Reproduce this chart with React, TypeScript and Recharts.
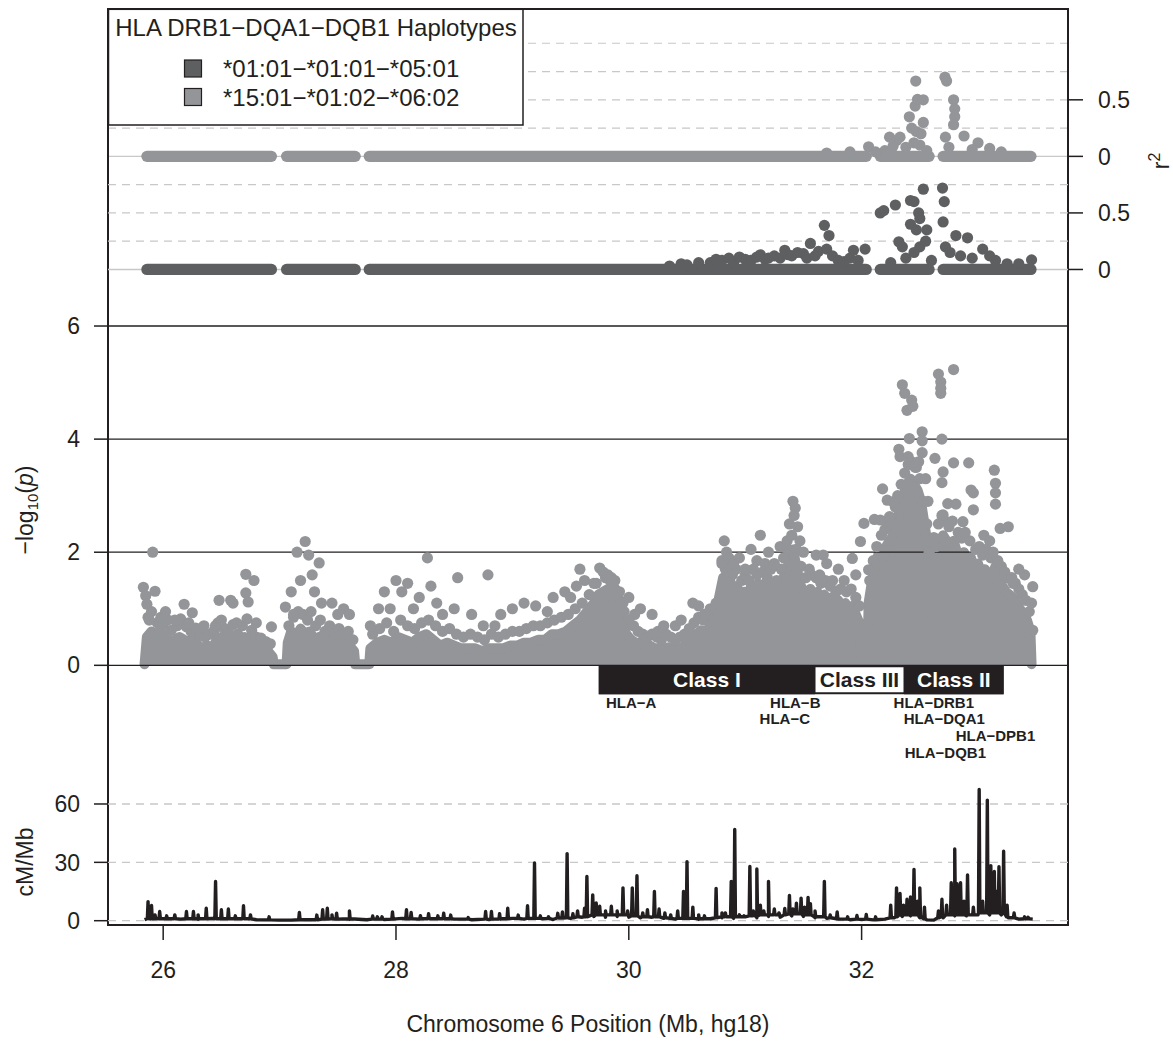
import React from 'react'
import {
  Area,
  ComposedChart,
  Line,
  ReferenceArea,
  ReferenceLine,
  Scatter,
  XAxis,
  YAxis,
} from 'recharts'

const W = 1173
const H = 1042
const FONT = '"Liberation Sans", Arial, Helvetica, sans-serif'
const INK = '#231f20'
const LIGHT = '#939598'
const DARK = '#5e5f61'
const GRID = '#c8c8c8'

// ---- data (Mb on chr6, hg18) ----
const xTicks = [26, 28, 30, 32]
const pTicks = [0, 2, 4, 6]
const r2Ticks = [0, 0.5]
const r2Grid = [0.25, 0.5, 0.75, 1]
const cmTicks = [0, 30, 60]

// dense body of the association cloud: [Mb, upper edge of the solid mass]
const pCoreTop = [
  [25.84, 0.02], [25.86, 0.5], [25.9, 0.6], [25.94, 0.45], [25.98, 0.5], [26.02, 0.55],
  [26.06, 0.4], [26.1, 0.45], [26.14, 0.5], [26.18, 0.45], [26.22, 0.4], [26.26, 0.5],
  [26.3, 0.35], [26.34, 0.3], [26.38, 0.35], [26.42, 0.3], [26.46, 0.45], [26.5, 0.5],
  [26.54, 0.35], [26.58, 0.5], [26.62, 0.4], [26.66, 0.35], [26.7, 0.5], [26.74, 0.45],
  [26.78, 0.35], [26.82, 0.3], [26.86, 0.3], [26.9, 0.25], [26.94, 0.15], [26.95, 0.02],
  [27.06, 0.02], [27.07, 0.4], [27.1, 0.6], [27.14, 0.5], [27.18, 0.65], [27.22, 0.55],
  [27.26, 0.6], [27.3, 0.45], [27.34, 0.5], [27.38, 0.4], [27.42, 0.45], [27.46, 0.35],
  [27.5, 0.45], [27.54, 0.35], [27.58, 0.4], [27.62, 0.3], [27.64, 0.25], [27.65, 0.02],
  [27.77, 0.02], [27.78, 0.3], [27.84, 0.4], [27.9, 0.45], [27.96, 0.4], [28.02, 0.5],
  [28.08, 0.45], [28.14, 0.4], [28.2, 0.5], [28.26, 0.55], [28.32, 0.45], [28.38, 0.35],
  [28.44, 0.4], [28.5, 0.35], [28.56, 0.3], [28.62, 0.3], [28.68, 0.3], [28.74, 0.25],
  [28.8, 0.3], [28.86, 0.3], [28.92, 0.3], [28.98, 0.35], [29.04, 0.35], [29.1, 0.4],
  [29.16, 0.4], [29.22, 0.45], [29.28, 0.45], [29.34, 0.55], [29.4, 0.55], [29.46, 0.6],
  [29.52, 0.7], [29.58, 0.8], [29.64, 0.95], [29.7, 1.1], [29.74, 1.25], [29.78, 1.3],
  [29.82, 1.35], [29.86, 1.2], [29.9, 0.95], [29.94, 0.75], [29.98, 0.55], [30.02, 0.45],
  [30.06, 0.4], [30.1, 0.4], [30.14, 0.35], [30.18, 0.35], [30.22, 0.3], [30.26, 0.3],
  [30.3, 0.28], [30.34, 0.32], [30.38, 0.3], [30.42, 0.28], [30.46, 0.32], [30.5, 0.38],
  [30.54, 0.45], [30.58, 0.55], [30.62, 0.62], [30.66, 0.58], [30.7, 0.7], [30.74, 0.85],
  [30.78, 1.25], [30.81, 1.55], [30.84, 1.4], [30.87, 1.5], [30.9, 1.3], [30.93, 1.4],
  [30.96, 1.2], [30.99, 1.3], [31.02, 1.2], [31.05, 1.4], [31.08, 1.25], [31.11, 1.45],
  [31.14, 1.3], [31.17, 1.45], [31.2, 1.3], [31.23, 1.4], [31.26, 1.25], [31.29, 1.4],
  [31.32, 1.5], [31.35, 1.65], [31.38, 1.85], [31.41, 2.05], [31.44, 1.75], [31.47, 1.45],
  [31.5, 1.3], [31.53, 1.2], [31.56, 1.35], [31.59, 1.2], [31.62, 1.3], [31.65, 1.15],
  [31.68, 1.25], [31.71, 1.1], [31.74, 1.2], [31.77, 1.0], [31.8, 1.15], [31.83, 1.0],
  [31.86, 1.1], [31.89, 1.0], [31.92, 1.05], [31.95, 0.9], [31.98, 0.75], [32.0, 0.02],
  [32.05, 0.02], [32.06, 1.1], [32.09, 1.5], [32.12, 1.8], [32.15, 2.0], [32.18, 1.9],
  [32.21, 2.1], [32.24, 2.2], [32.27, 2.3], [32.3, 2.5], [32.33, 2.8], [32.36, 3.0],
  [32.39, 3.2], [32.42, 3.3], [32.45, 3.2], [32.48, 3.1], [32.51, 2.9], [32.54, 2.5],
  [32.57, 2.1], [32.6, 1.3], [32.62, 0.5], [32.64, 1.7], [32.67, 2.2], [32.7, 2.3],
  [32.73, 2.2], [32.76, 2.1], [32.79, 2.2], [32.82, 2.0], [32.85, 1.9], [32.88, 2.0],
  [32.91, 1.8], [32.94, 1.9], [32.97, 1.7], [33.0, 1.8], [33.03, 1.6], [33.06, 1.7],
  [33.09, 1.5], [33.12, 1.6], [33.15, 1.75], [33.18, 1.5], [33.21, 1.4], [33.24, 1.3],
  [33.27, 1.25], [33.3, 1.2], [33.33, 1.1], [33.36, 1.0], [33.39, 0.9], [33.42, 0.8],
  [33.45, 0.6], [33.46, 0.02],
]

// SNPs along the ragged top of the cloud: [Mb, -log10 p]
const pFringe = [
  [25.87, 0.85], [25.9, 0.95], [25.95, 0.75], [25.97, 0.6], [26.0, 0.72], [26.04, 0.8],
  [26.07, 0.62], [26.12, 0.7], [26.15, 0.82], [26.2, 0.68], [26.24, 0.6], [26.28, 0.66],
  [26.32, 0.55], [26.36, 0.5], [26.4, 0.55], [26.44, 0.62], [26.47, 0.75], [26.52, 0.66],
  [26.56, 0.58], [26.6, 0.72], [26.64, 0.55], [26.68, 0.7], [26.72, 0.82], [26.76, 0.62],
  [26.8, 0.5], [26.84, 0.48], [26.88, 0.42], [26.92, 0.38],
  [27.08, 0.7], [27.12, 0.85], [27.16, 0.95], [27.2, 0.9], [27.24, 0.8], [27.27, 0.95],
  [27.31, 0.7], [27.35, 0.8], [27.39, 0.6], [27.43, 0.7], [27.47, 0.55], [27.51, 0.65],
  [27.55, 0.55], [27.59, 0.6], [27.63, 0.45],
  [27.8, 0.55], [27.86, 0.65], [27.92, 0.75], [27.98, 0.6], [28.04, 0.8], [28.1, 0.7],
  [28.16, 0.65], [28.22, 0.75], [28.28, 0.8], [28.34, 0.7], [28.4, 0.6], [28.46, 0.65],
  [28.52, 0.55], [28.58, 0.5], [28.64, 0.55], [28.7, 0.5], [28.76, 0.45], [28.82, 0.55],
  [28.88, 0.5], [28.94, 0.55], [29.0, 0.6], [29.06, 0.6], [29.12, 0.65], [29.18, 0.7],
  [29.24, 0.7], [29.3, 0.75], [29.36, 0.8], [29.42, 0.85], [29.48, 0.9], [29.54, 1.0],
  [29.6, 1.1], [29.66, 1.25], [29.72, 1.45], [29.8, 1.55], [29.84, 1.5], [29.88, 1.35],
  [29.92, 1.15], [29.96, 0.95], [30.0, 0.8], [30.04, 0.7],
  [30.08, 0.6], [30.12, 0.55], [30.16, 0.5], [30.2, 0.55], [30.24, 0.5], [30.28, 0.45],
  [30.32, 0.55], [30.36, 0.5], [30.4, 0.45], [30.44, 0.5], [30.48, 0.55], [30.52, 0.65],
  [30.56, 0.75], [30.6, 0.85], [30.64, 0.8], [30.68, 0.9], [30.72, 1.0],
  [30.8, 1.85], [30.83, 1.7], [30.86, 1.8], [30.89, 1.6], [30.92, 1.7], [30.97, 1.5],
  [31.0, 1.6], [31.03, 1.5], [31.07, 1.7], [31.1, 1.6], [31.15, 1.65], [31.19, 1.55],
  [31.22, 1.7], [31.27, 1.5], [31.31, 1.7], [31.34, 1.9], [31.37, 2.05], [31.44, 2.05],
  [31.48, 1.75], [31.52, 1.55], [31.57, 1.6], [31.61, 1.55], [31.65, 1.45], [31.69, 1.5],
  [31.73, 1.4], [31.78, 1.3], [31.82, 1.35], [31.87, 1.3], [31.91, 1.35], [31.95, 1.2],
  [31.98, 1.05],
  [32.07, 1.5], [32.1, 1.85], [32.13, 2.1], [32.17, 2.3], [32.2, 2.4], [32.23, 2.5],
  [32.26, 2.6], [32.29, 2.8], [32.31, 3.0], [32.34, 3.2], [32.37, 3.4], [32.4, 3.55],
  [32.43, 3.6], [32.47, 3.5], [32.5, 3.3], [32.53, 2.9], [32.56, 2.5], [32.58, 2.0],
  [32.64, 2.1], [32.66, 2.5], [32.69, 2.65], [32.72, 2.55], [32.75, 2.45], [32.78, 2.55],
  [32.83, 2.35], [32.86, 2.25], [32.89, 2.35], [32.93, 2.2], [32.98, 2.05], [33.01, 2.1],
  [33.04, 1.95], [33.07, 2.05], [33.11, 1.9], [33.13, 2.0], [33.17, 1.85], [33.2, 1.75],
  [33.23, 1.65], [33.26, 1.55], [33.29, 1.55], [33.32, 1.45], [33.35, 1.35], [33.38, 1.25],
  [33.41, 1.15], [33.44, 0.95],
]

// individual SNPs standing out of the cloud: [Mb, -log10 p]
const pPoints = [
  [25.83, 1.38], [25.85, 1.23], [25.86, 1.08], [25.91, 2.0], [25.93, 1.31], [25.88, 0.8],
  [25.98, 0.85], [26.02, 0.95], [26.1, 0.8], [26.18, 1.08], [26.22, 0.75], [26.25, 0.93],
  [26.35, 0.7], [26.45, 0.7], [26.48, 1.15], [26.5, 0.8], [26.58, 1.15], [26.6, 1.1],
  [26.63, 0.75], [26.71, 1.61], [26.71, 1.28], [26.73, 1.12], [26.78, 1.5], [26.8, 0.75],
  [26.93, 0.68], [27.05, 1.03], [27.1, 1.3], [27.12, 0.9], [27.15, 2.0], [27.18, 1.5],
  [27.22, 2.19], [27.25, 1.95], [27.28, 1.6], [27.3, 1.3], [27.34, 1.81], [27.36, 1.1],
  [27.45, 1.1], [27.5, 0.9], [27.55, 1.0], [27.6, 0.9], [27.78, 0.7], [27.85, 1.0],
  [27.9, 1.3], [27.95, 1.0], [28.0, 1.5], [28.05, 1.3], [28.1, 1.45], [28.15, 1.0],
  [28.2, 1.2], [28.27, 1.9], [28.3, 1.4], [28.35, 1.1], [28.4, 0.9], [28.5, 1.0],
  [28.53, 1.55], [28.65, 0.9], [28.79, 1.6], [28.75, 0.7], [28.85, 0.7], [28.9, 0.9],
  [29.0, 1.0], [29.1, 1.1], [29.2, 1.05], [29.3, 0.95], [29.35, 1.2], [29.45, 1.3],
  [29.5, 1.2], [29.55, 1.4], [29.58, 1.7], [29.62, 1.5], [29.7, 1.45], [29.75, 1.72],
  [29.78, 1.65], [29.82, 1.6], [29.85, 1.55], [29.88, 1.5], [29.92, 1.3], [29.95, 1.1],
  [30.0, 1.2], [30.05, 0.9], [30.1, 1.0], [30.2, 0.9], [30.25, 0.6], [30.3, 0.7],
  [30.4, 0.7], [30.45, 0.8], [30.55, 1.1], [30.6, 1.05], [30.65, 0.9], [30.7, 1.0],
  [30.75, 1.1], [30.8, 1.8], [30.82, 2.2], [30.84, 2.0], [30.86, 1.9], [30.9, 1.8],
  [30.95, 1.9], [31.0, 1.7], [31.05, 2.05], [31.1, 1.85], [31.13, 2.3], [31.17, 1.8],
  [31.2, 2.0], [31.25, 1.8], [31.3, 2.1], [31.33, 1.9], [31.36, 2.2], [31.38, 2.5],
  [31.4, 2.3], [31.41, 2.9], [31.43, 2.78], [31.42, 2.65], [31.45, 2.45], [31.47, 2.2],
  [31.5, 2.0], [31.55, 1.7], [31.61, 1.95], [31.67, 1.95], [31.64, 1.6], [31.7, 1.8],
  [31.75, 1.5], [31.8, 1.7], [31.85, 1.5], [31.92, 1.89], [31.99, 2.19], [31.95, 1.6],
  [32.02, 2.51], [32.06, 1.69], [32.11, 2.58], [32.16, 2.57], [32.18, 3.12], [32.22, 2.92],
  [32.24, 2.63], [32.27, 2.89], [32.32, 3.82], [32.33, 3.69], [32.35, 4.96], [32.37, 4.81],
  [32.39, 4.51], [32.4, 3.69], [32.41, 4.01], [32.43, 4.69], [32.44, 4.58], [32.52, 4.13],
  [32.52, 3.97], [32.52, 3.76], [32.46, 3.5], [32.49, 3.6], [32.55, 3.3], [32.57, 2.9],
  [32.62, 2.26], [32.63, 3.66], [32.66, 5.15], [32.68, 5.01], [32.68, 4.9], [32.68, 4.81],
  [32.69, 4.0], [32.7, 3.42], [32.69, 3.23], [32.7, 2.66], [32.74, 2.86], [32.79, 5.23],
  [32.79, 3.58], [32.81, 2.85], [32.87, 2.54], [32.92, 3.58], [32.94, 3.1], [32.96, 3.05],
  [32.96, 2.75], [33.14, 3.45], [33.15, 3.22], [33.15, 3.05], [33.15, 2.85], [33.19, 2.42],
  [33.26, 2.45], [33.05, 2.3], [33.1, 2.2], [33.3, 1.45], [33.47, 1.39], [33.46, 1.1],
  [33.47, 0.62], [33.4, 1.6], [33.35, 1.7],
]

// runs of SNPs sitting at r2 = 0 in both haplotype panels: [start Mb, end Mb]
const r2ZeroRuns = [
  [25.86, 26.93], [27.06, 27.65], [27.77, 32.04], [32.16, 32.58], [32.7, 33.455],
]

// *15:01-*01:02-*06:02 (light, upper panel): [Mb, r2]
const r2Hap1502 = [
  [32.06, 0.085], [32.24, 0.17], [32.3, 0.14], [32.33, 0.17], [32.41, 0.35], [32.43, 0.25],
  [32.46, 0.445], [32.465, 0.666], [32.47, 0.22], [32.48, 0.504], [32.51, 0.2], [32.53, 0.5],
  [32.716, 0.7], [32.73, 0.666], [32.72, 0.17], [32.79, 0.5], [32.8, 0.42], [32.8, 0.35],
  [32.79, 0.28], [32.88, 0.18], [33.0, 0.12], [33.1, 0.07], [32.38, 0.08], [32.5, 0.1],
  [32.56, 0.05], [32.75, 0.08], [32.95, 0.06], [33.2, 0.04], [32.2, 0.05], [31.9, 0.04],
  [31.7, 0.03], [32.12, 0.04], [32.27, 0.09], [32.53, 0.3], [32.45, 0.12],
]

// *01:01-*01:01-*05:01 (dark, lower panel): [Mb, r2]
const r2Hap0101 = [
  [30.35, 0.03], [30.45, 0.05], [30.5, 0.04], [30.6, 0.06], [30.7, 0.06], [30.75, 0.09],
  [30.8, 0.08], [30.86, 0.1], [30.9, 0.06], [30.95, 0.11], [31.0, 0.09], [31.05, 0.08],
  [31.1, 0.11], [31.13, 0.13], [31.17, 0.09], [31.2, 0.1], [31.25, 0.12], [31.3, 0.1],
  [31.34, 0.17], [31.37, 0.13], [31.4, 0.12], [31.45, 0.15], [31.5, 0.14], [31.53, 0.1],
  [31.56, 0.23], [31.6, 0.12], [31.63, 0.16], [31.68, 0.39], [31.72, 0.3], [31.7, 0.18],
  [31.75, 0.12], [31.8, 0.08], [31.85, 0.07], [31.9, 0.1], [31.93, 0.17], [31.97, 0.08],
  [32.03, 0.18], [32.16, 0.5], [32.19, 0.52], [32.29, 0.57], [32.32, 0.245], [32.42, 0.61],
  [32.45, 0.6], [32.42, 0.4], [32.47, 0.35], [32.49, 0.5], [32.5, 0.45], [32.53, 0.71],
  [32.56, 0.35], [32.5, 0.2], [32.45, 0.15], [32.695, 0.72], [32.71, 0.6], [32.7, 0.42],
  [32.72, 0.2], [32.81, 0.3], [32.91, 0.28], [33.04, 0.18], [32.85, 0.12], [33.15, 0.08],
  [33.46, 0.085], [32.38, 0.1], [32.6, 0.08], [32.25, 0.06], [32.35, 0.2], [32.55, 0.25],
  [32.76, 0.15], [32.95, 0.1], [33.1, 0.12], [33.25, 0.05], [33.35, 0.05],
]

// recombination rate (HapMap), background level: [Mb, cM/Mb]
const recombBase = [
  [25.84, 0.5], [25.95, 1.2], [26.05, 1], [26.15, 0.8], [26.3, 0.8], [26.42, 1.2], [26.6, 1],
  [26.8, 0.5], [27.0, 0.3], [27.1, 0.3], [27.3, 0.5], [27.45, 1], [27.6, 0.8], [27.75, 0.5],
  [27.9, 0.6], [28.05, 1.2], [28.2, 0.8], [28.35, 1], [28.5, 0.8], [28.65, 0.5], [28.8, 0.6],
  [28.9, 1], [29.0, 1.2], [29.1, 0.8], [29.25, 1], [29.35, 0.6], [29.5, 1.2], [29.6, 1.8],
  [29.7, 2.2], [29.8, 1.8], [29.9, 2.2], [30.0, 1.8], [30.1, 1.5], [30.2, 1.8], [30.3, 1.2],
  [30.4, 0.8], [30.6, 0.8], [30.7, 1], [30.8, 1.5], [30.9, 1.2], [31.0, 2], [31.1, 1.5],
  [31.2, 2.2], [31.3, 1.8], [31.4, 2.5], [31.5, 2.2], [31.6, 1.5], [31.7, 1.2], [31.8, 0.8],
  [31.9, 0.5], [32.0, 0.6], [32.1, 0.4], [32.2, 0.8], [32.28, 1.5], [32.35, 2.2], [32.42, 2.5],
  [32.5, 1.5], [32.56, 0.4], [32.62, 0.3], [32.7, 1.5], [32.8, 2.5], [32.9, 2.5], [33.0, 3],
  [33.1, 3], [33.2, 3], [33.26, 1.5], [33.35, 0.8], [33.47, 0.8],
]

// recombination hotspots: [Mb, peak cM/Mb, foot cM/Mb]
const recombSpikes = [
  [25.87, 9.8, 1], [25.9, 7.8, 1], [25.93, 3, 1], [25.97, 4.7, 1], [26.03, 2.5, 1],
  [26.1, 3, 1], [26.2, 4.7, 1], [26.26, 4.7, 1], [26.3, 3, 1], [26.37, 6.4, 1],
  [26.45, 20.2, 1], [26.5, 5.6, 1], [26.56, 6, 1], [26.62, 2.5, 1], [26.69, 7.7, 1],
  [26.75, 3, 1], [26.91, 2, 0.4], [27.17, 4.3, 0.5], [27.32, 2.9, 0.5], [27.37, 5.6, 0.8],
  [27.41, 6.4, 0.8], [27.45, 3, 1], [27.49, 3.8, 0.8], [27.6, 5, 1], [27.8, 2.4, 0.8],
  [27.84, 2, 0.8], [27.88, 2, 0.8], [27.97, 4.5, 0.8], [28.09, 5.6, 1], [28.13, 4.3, 1],
  [28.21, 2.6, 1], [28.28, 3.6, 1], [28.36, 2.5, 1], [28.41, 3.8, 1], [28.47, 2.9, 1],
  [28.62, 1.6, 0.8], [28.77, 4.7, 0.8], [28.82, 4.7, 0.8], [28.89, 3.6, 0.8], [28.96, 6.4, 1],
  [29.05, 2.9, 1.2], [29.13, 7.7, 1.2], [29.19, 29.7, 1.2], [29.24, 2.5, 1.2], [29.31, 2, 1.2],
  [29.39, 3.8, 1.4], [29.43, 4.5, 1.4], [29.47, 34.5, 1.5], [29.52, 3.6, 1.5], [29.56, 5, 2],
  [29.62, 6.4, 2], [29.64, 22.7, 2], [29.69, 13.3, 3], [29.72, 9.1, 3], [29.75, 7.4, 3],
  [29.8, 5, 3], [29.85, 7.4, 3], [29.9, 5, 3], [29.95, 16.9, 3], [29.99, 5, 3],
  [30.03, 16.9, 2.5], [30.07, 23.1, 2.5], [30.12, 4, 2], [30.16, 5.7, 2], [30.22, 15, 2],
  [30.26, 6, 2], [30.31, 4, 1.5], [30.36, 3, 1.2], [30.42, 5, 1.2], [30.47, 15, 1.2],
  [30.5, 30.3, 1.2], [30.55, 7, 1.2], [30.6, 3, 1], [30.65, 2.5, 1], [30.75, 16.6, 1.5],
  [30.8, 4, 2], [30.83, 4, 2], [30.88, 20.2, 2], [30.91, 46.9, 2], [30.95, 3, 2],
  [30.99, 2.5, 2], [31.04, 27.9, 2.5], [31.07, 5, 2.5], [31.1, 26.6, 2.5], [31.13, 8, 3],
  [31.16, 5, 3], [31.2, 20.2, 3], [31.25, 6, 3], [31.29, 4, 3], [31.34, 6.3, 3],
  [31.38, 13, 3.5], [31.41, 6, 3.5], [31.44, 9, 3.5], [31.48, 11.6, 3.5], [31.51, 7, 3],
  [31.54, 12, 3], [31.56, 8.8, 3], [31.6, 5, 2], [31.68, 20.2, 2], [31.73, 3, 1.5],
  [31.79, 4.5, 1], [31.88, 2, 0.8], [31.96, 2.7, 0.8], [32.04, 3.2, 0.8], [32.12, 2, 0.5],
  [32.25, 8, 1.5], [32.3, 16.9, 2], [32.33, 14, 3], [32.36, 8, 3], [32.39, 11, 3],
  [32.42, 12.2, 3], [32.45, 26.4, 3], [32.48, 10, 3], [32.5, 16.9, 2], [32.54, 7, 1],
  [32.66, 5, 1.5], [32.69, 11, 2], [32.73, 8, 3], [32.77, 19.5, 3], [32.8, 36.9, 3],
  [32.82, 19, 3], [32.85, 19.5, 3], [32.88, 10, 3], [32.91, 23.5, 3], [32.96, 7, 3],
  [33.01, 67.5, 4], [33.04, 10, 4], [33.08, 62, 4], [33.11, 28.3, 4], [33.14, 25.3, 4],
  [33.16, 15, 4], [33.18, 27.7, 4], [33.22, 35.7, 4], [33.25, 8, 2], [33.31, 4, 1.5],
  [33.4, 2, 1], [33.43, 1.8, 1],
]

// MHC classes drawn as a band just under p = 1: [label, start Mb, end Mb]
const mhcClasses: [string, number, number][] = [
  ['Class I', 29.742, 31.6],
  ['Class III', 31.6, 32.364],
  ['Class II', 32.364, 33.22],
]

// HLA genes: [name, Mb, label row]
const hlaGenes: [string, number, number][] = [
  ['HLA\u2212A', 30.02, 0],
  ['HLA\u2212B', 31.43, 0],
  ['HLA\u2212C', 31.34, 1],
  ['HLA\u2212DRB1', 32.62, 0],
  ['HLA\u2212DQA1', 32.71, 1],
  ['HLA\u2212DPB1', 33.15, 2],
  ['HLA\u2212DQB1', 32.72, 3],
]

const legendItems = [
  { label: '*01:01\u2212*01:01\u2212*05:01', color: DARK },
  { label: '*15:01\u2212*01:02\u2212*06:02', color: LIGHT },
]

// ---- layout: all panels share one frame, measured in -log10(p) units ----
const X_DOMAIN: [number, number] = [25.526, 33.773]
const P_DOMAIN: [number, number] = [-4.592, 11.606]
const panel = (offset: number, scale: number): [number, number] => [
  (P_DOMAIN[0] - offset) * scale,
  (P_DOMAIN[1] - offset) * scale,
]
const R2_TOP_DOMAIN = panel(9, 0.5)
const R2_LOW_DOMAIN = panel(7, 0.5)
const CM_DOMAIN = panel(-4.516, 29.07)

const MARGIN_A = { top: 9, right: 0, bottom: 0, left: 0 }
const MARGIN_B = { top: 9, right: 0, bottom: 117, left: 0 }

const toXY = (rows: number[][]) => rows.map(([x, y]) => ({ x, y }))

const pCoreData = toXY(pCoreTop)
const pPointData = toXY([...pFringe, ...pPoints])
const r2TopData = toXY(r2Hap1502)
const r2LowData = toXY(r2Hap0101)
const recombData = [
  ...toXY(recombBase),
  ...recombSpikes.flatMap(([x, peak, foot]) => [
    { x: x - 0.006, y: foot },
    { x, y: peak },
    { x: x + 0.006, y: foot },
  ]),
].sort((a, b) => a.x - b.x)
const geneData = hlaGenes.map(([name, x, row]) => ({ name, x, y: -0.75 - row * 0.295 }))

const tickFont = { fontSize: 23, fill: INK, fontFamily: FONT }
const tickLine = { stroke: INK, strokeWidth: 1.5 }

const dot = (fill: string) => (props: any) =>
  props.cx == null ? <g /> : <circle cx={props.cx} cy={props.cy} r={5.6} fill={fill} />

const geneLabel = (props: any) => (
  <text
    x={props.cx}
    y={props.cy}
    textAnchor="middle"
    fontFamily={FONT}
    fontWeight="bold"
    fontSize={15}
    fill={INK}
  >
    {props.payload.name}
  </text>
)

function MainChart() {
  return (
    <ComposedChart width={W} height={H} margin={MARGIN_A}>
      <XAxis
        type="number"
        dataKey="x"
        domain={X_DOMAIN}
        allowDataOverflow
        ticks={xTicks}
        height={117}
        axisLine={false}
        tickSize={15}
        tickMargin={22}
        tickLine={tickLine}
        tick={tickFont}
      />
      <YAxis
        yAxisId="p"
        dataKey="y"
        type="number"
        domain={P_DOMAIN}
        allowDataOverflow
        ticks={pTicks}
        width={108}
        axisLine={false}
        tickSize={14}
        tickMargin={14}
        tickLine={tickLine}
        tick={tickFont}
      />
      <YAxis
        yAxisId="r2"
        dataKey="y"
        orientation="right"
        type="number"
        domain={R2_TOP_DOMAIN}
        allowDataOverflow
        ticks={r2Ticks}
        width={105}
        axisLine={false}
        tickSize={15}
        tickMargin={15}
        tickLine={tickLine}
        tick={tickFont}
      />

      {r2Grid.map((v) => (
        <ReferenceLine key={v} yAxisId="r2" y={v} stroke={GRID} strokeWidth={1.2} strokeDasharray="8 6" />
      ))}
      <ReferenceLine yAxisId="r2" y={0} stroke={GRID} strokeWidth={1.4} />
      {pTicks.map((v) => (
        <ReferenceLine key={v} yAxisId="p" y={v} stroke={INK} strokeWidth={1.3} />
      ))}

      <Area
        yAxisId="p"
        data={pCoreData}
        dataKey="y"
        type="linear"
        baseValue={0}
        stroke={LIGHT}
        strokeWidth={10}
        strokeLinejoin="round"
        strokeLinecap="round"
        fill={LIGHT}
        fillOpacity={1}
        isAnimationActive={false}
      />
      <Scatter yAxisId="p" data={pPointData} dataKey="y" shape={dot(LIGHT)} isAnimationActive={false} />

      {r2ZeroRuns.map(([a, b]) => (
        <Line
          key={a}
          yAxisId="r2"
          data={[{ x: a, y: 0 }, { x: b, y: 0 }]}
          dataKey="y"
          type="linear"
          dot={false}
          stroke={LIGHT}
          strokeWidth={11.2}
          strokeLinecap="round"
          isAnimationActive={false}
        />
      ))}
      <Scatter yAxisId="r2" data={r2TopData} dataKey="y" shape={dot(LIGHT)} isAnimationActive={false} />

      <ReferenceArea yAxisId="p" x1={mhcClasses[0][1]} x2={mhcClasses[2][2]} y1={-0.51} y2={0} fill={INK} fillOpacity={1} />
      {mhcClasses.map(([name, a, b]) => (
        <ReferenceArea
          key={name}
          yAxisId="p"
          x1={a + (name === 'Class III' ? 0.004 : 0)}
          x2={b - (name === 'Class III' ? 0.004 : 0)}
          y1={name === 'Class III' ? -0.475 : -0.51}
          y2={name === 'Class III' ? -0.035 : 0}
          fill={name === 'Class III' ? '#ffffff' : INK}
          fillOpacity={1}
          label={{
            value: name,
            position: 'center',
            fill: name === 'Class III' ? INK : '#ffffff',
            fontSize: 21,
            fontWeight: 'bold',
            fontFamily: FONT,
          }}
        />
      ))}
      <Scatter yAxisId="p" data={geneData} dataKey="y" shape={geneLabel} isAnimationActive={false} />
    </ComposedChart>
  )
}

function LowerLayer() {
  return (
    <ComposedChart width={W} height={H} margin={MARGIN_B}>
      <XAxis type="number" dataKey="x" domain={X_DOMAIN} allowDataOverflow hide />
      <YAxis
        yAxisId="cm"
        dataKey="y"
        type="number"
        domain={CM_DOMAIN}
        allowDataOverflow
        ticks={cmTicks}
        width={108}
        axisLine={false}
        tickSize={14}
        tickMargin={14}
        tickLine={tickLine}
        tick={tickFont}
      />
      <YAxis
        yAxisId="r2"
        dataKey="y"
        orientation="right"
        type="number"
        domain={R2_LOW_DOMAIN}
        allowDataOverflow
        ticks={r2Ticks}
        width={105}
        axisLine={false}
        tickSize={15}
        tickMargin={15}
        tickLine={tickLine}
        tick={tickFont}
      />

      {cmTicks.map((v) => (
        <ReferenceLine key={v} yAxisId="cm" y={v} stroke={GRID} strokeWidth={1.3} strokeDasharray="8 6" />
      ))}
      {r2Grid.slice(0, 3).map((v) => (
        <ReferenceLine key={v} yAxisId="r2" y={v} stroke={GRID} strokeWidth={1.2} strokeDasharray="8 6" />
      ))}
      <ReferenceLine yAxisId="r2" y={0} stroke={GRID} strokeWidth={1.4} />

      {r2ZeroRuns.map(([a, b]) => (
        <Line
          key={a}
          yAxisId="r2"
          data={[{ x: a, y: 0 }, { x: b, y: 0 }]}
          dataKey="y"
          type="linear"
          dot={false}
          stroke={DARK}
          strokeWidth={11.2}
          strokeLinecap="round"
          isAnimationActive={false}
        />
      ))}
      <Scatter yAxisId="r2" data={r2LowData} dataKey="y" shape={dot(DARK)} isAnimationActive={false} />

      <Line
        yAxisId="cm"
        data={recombData}
        dataKey="y"
        type="linear"
        dot={false}
        stroke={INK}
        strokeWidth={3.4}
        strokeLinejoin="round"
        isAnimationActive={false}
      />

      <ReferenceArea
        yAxisId="cm"
        x1={X_DOMAIN[0]}
        x2={X_DOMAIN[1]}
        y1={CM_DOMAIN[0]}
        y2={CM_DOMAIN[1]}
        fill="none"
        stroke={INK}
        strokeWidth={2}
      />
    </ComposedChart>
  )
}

function Annotations() {
  return (
    <svg width={W} height={H} style={{ position: 'absolute', left: 0, top: 0, pointerEvents: 'none' }}>
      <g fontFamily={FONT} fill={INK}>
        <rect x={108.5} y={9.3} width={414.5} height={115.7} fill="#ffffff" stroke={INK} strokeWidth={1.5} />
        <text x={316} y={36} fontSize={24} textAnchor="middle">
          HLA DRB1{'\u2212'}DQA1{'\u2212'}DQB1 Haplotypes
        </text>
        {legendItems.map((it, i) => (
          <g key={it.label}>
            <rect x={184.5} y={60 + i * 28.5} width={17} height={17} fill={it.color} stroke={INK} strokeWidth={1.2} />
            <text x={223} y={77 + i * 28.5} fontSize={24}>
              {it.label}
            </text>
          </g>
        ))}
        <text transform="translate(33 510) rotate(-90)" fontSize={23} textAnchor="middle">
          {'\u2212'}log<tspan fontSize={15} dy={5}>10</tspan>
          <tspan dy={-5}>(</tspan>
          <tspan fontStyle="italic">p</tspan>)
        </text>
        <text transform="translate(33 862) rotate(-90)" fontSize={23} textAnchor="middle">
          cM/Mb
        </text>
        <text transform="translate(1169 161) rotate(-90)" fontSize={23} textAnchor="middle">
          r<tspan fontSize={16} dy={-9}>2</tspan>
        </text>
        <text x={588} y={1032} fontSize={23} textAnchor="middle">
          Chromosome 6 Position (Mb, hg18)
        </text>
      </g>
    </svg>
  )
}

export default function App() {
  return (
    <div style={{ position: 'absolute', left: 0, top: 0, width: W, height: H, background: '#ffffff' }}>
      <div style={{ position: 'absolute', left: 0, top: 0 }}>
        <MainChart />
      </div>
      <div style={{ position: 'absolute', left: 0, top: 0 }}>
        <LowerLayer />
      </div>
      <Annotations />
    </div>
  )
}
